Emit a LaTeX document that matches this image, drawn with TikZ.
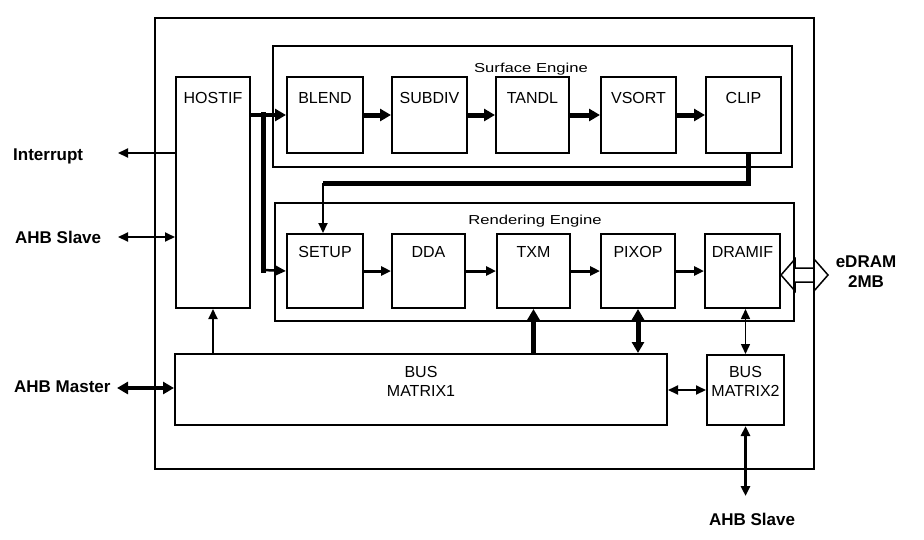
\documentclass[tikz,border=0pt]{standalone}
\usepackage{fontspec}
\setmainfont{Liberation Sans}
\newfontfamily\engfont[FakeStretch=1.28]{Liberation Sans}
\usetikzlibrary{arrows.meta,calc}
\begin{document}
\begin{tikzpicture}[x=1pt,y=-1pt,
  box/.style={draw, line width=2pt, rectangle, inner sep=0pt, anchor=north west},
  btext/.style={anchor=north, inner sep=0pt, font=\fontsize{16}{19}\selectfont, align=center},
  otext/.style={inner sep=0pt, font=\fontsize{17}{20}\selectfont\bfseries, align=center},
  etext/.style={inner sep=0pt, anchor=base, font=\engfont\fontsize{13}{15}\selectfont},
  tipa/.style={-{Triangle[length=10pt,width=9pt]}},
  tipb/.style={{Triangle[length=10pt,width=9pt]}-{Triangle[length=10pt,width=9pt]}},
  tipA/.style={-{Triangle[length=11pt,width=12pt]}},
  tipB/.style={{Triangle[length=11pt,width=12pt]}-{Triangle[length=11pt,width=12pt]}},
  thinline/.style={line width=2pt},
  medline/.style={line width=3pt},
  fatline/.style={line width=5pt}
]
\useasboundingbox (0,0) rectangle (924,539);

% outer chip
\node[box, minimum width=659pt, minimum height=451pt] (chip) at (154,17) {};

% HOSTIF
\node[box, minimum width=74pt, minimum height=231pt] (HOSTIF) at (175,76) {};
\node[btext] (tHOSTIF) at ([yshift=-16pt]HOSTIF.north) {HOSTIF};

% Surface engine
\node[box, minimum width=519pt, minimum height=121pt] (SE) at (272,45) {};
\node[etext] (tSE) at (531,72) {Surface Engine};
\node[box, minimum width=76pt, minimum height=76pt] (BLEND) at (286,76) {};
\node[box, minimum width=75pt, minimum height=76pt] (SUBDIV) at (391,76) {};
\node[box, minimum width=73pt, minimum height=76pt] (TANDL) at (495,76) {};
\node[box, minimum width=75pt, minimum height=76pt] (VSORT) at (600,76) {};
\node[box, minimum width=75pt, minimum height=76pt] (CLIP) at (705,76) {};
\node[btext] (tBLEND) at ([yshift=-16pt]BLEND.north) {BLEND};
\node[btext] (tSUBDIV) at ([yshift=-16pt]SUBDIV.north) {SUBDIV};
\node[btext] (tTANDL) at ([yshift=-16pt]TANDL.north) {TANDL};
\node[btext] (tVSORT) at ([yshift=-16pt]VSORT.north) {VSORT};
\node[btext] (tCLIP) at ([yshift=-16pt]CLIP.north) {CLIP};

% Rendering engine
\node[box, minimum width=519pt, minimum height=118pt] (RE) at (274,202) {};
\node[etext] (tRE) at (535,224) {Rendering Engine};
\node[box, minimum width=76pt, minimum height=74pt] (SETUP) at (286,233) {};
\node[box, minimum width=73pt, minimum height=74pt] (DDA) at (391,233) {};
\node[box, minimum width=73pt, minimum height=74pt] (TXM) at (496,233) {};
\node[box, minimum width=74pt, minimum height=74pt] (PIXOP) at (600,233) {};
\node[box, minimum width=75pt, minimum height=74pt] (DRAMIF) at (704,233) {};
\node[btext] (tSETUP) at ([yshift=-13pt]SETUP.north) {SETUP};
\node[btext] (tDDA) at ([yshift=-13pt]DDA.north) {DDA};
\node[btext] (tTXM) at ([yshift=-13pt]TXM.north) {TXM};
\node[btext] (tPIXOP) at ([yshift=-13pt]PIXOP.north) {PIXOP};
\node[btext] (tDRAMIF) at ([yshift=-13pt]DRAMIF.north) {DRAMIF};

% Bus matrices
\node[box, minimum width=492pt, minimum height=71pt] (BM1) at (174,353) {};
\node[btext] (tBM1) at (421,366) {BUS\\MATRIX1};
\node[box, minimum width=77pt, minimum height=70pt] (BM2) at (706,354) {};
\node[btext] (tBM2) at ([yshift=-12pt]BM2.north) {BUS\\MATRIX2};

% outside labels
\node[otext, anchor=base west] (tInt) at (13,160) {Interrupt};
\node[otext, anchor=base west] (tAHBS) at (15,243) {AHB Slave};
\node[otext, anchor=base west] (tAHBM) at (14,392) {AHB Master};
\node[otext, anchor=base] (tAHBS2) at (752,525) {AHB Slave};
\node[otext, anchor=base] (tED1) at (866,267) {eDRAM};
\node[otext, anchor=base] (tED2) at (866,287) {2MB};

% free ends
\coordinate (intE) at (118,153);
\coordinate (ahbsE) at (118,237);
\coordinate (ahbmE) at (117,388);
\coordinate (ahbs2E) at (746,496);
\coordinate (jtop) at (263,114);
\coordinate (jbot) at (263,270);
\coordinate (fbR) at (748,183);
\coordinate (fbL) at (323,183);

% Surface chain
\draw[line width=4pt, tipA] (HOSTIF.east |- BLEND.west) -- (BLEND.west);
\draw[fatline, tipA] (BLEND.east) -- (SUBDIV.west);
\draw[fatline, tipA] (SUBDIV.east) -- (TANDL.west);
\draw[fatline, tipA] (TANDL.east) -- (VSORT.west);
\draw[fatline, tipA] (VSORT.east) -- (CLIP.west);

% HOSTIF to SETUP
\draw[fatline, line cap=rect] (jtop) -- (jbot);
\draw[line width=2.5pt, tipa] (jbot) -- (SETUP.west);

% CLIP feedback to SETUP
\draw[fatline, line join=miter] (CLIP.south -| fbR) -- (fbR) -- (fbL);
\draw[thinline, tipa] (fbL) -- (fbL |- SETUP.north);

% Rendering chain
\draw[medline, tipa] (SETUP.east) -- (DDA.west);
\draw[medline, tipa] (DDA.east) -- (TXM.west);
\draw[medline, tipa] (TXM.east) -- (PIXOP.west);
\draw[medline, tipa] (PIXOP.east) -- (DRAMIF.west);

% eDRAM hollow double arrow
\draw[line width=1.5pt] ($(DRAMIF.east)+(0,4)$) -- ++(14,-16) -- ++(0,9) -- ++(19,0) -- ++(0,-9)
  -- ++(14,16) -- ++(-14,16) -- ++(0,-9) -- ++(-19,0) -- ++(0,9) -- cycle;

% bus connections
\draw[fatline, tipA] (TXM.south |- BM1.north) -- (TXM.south);
\draw[fatline, tipB] (PIXOP.south) -- (PIXOP.south |- BM1.north);
\draw[line width=1.5pt, tipb] (BM2.north |- DRAMIF.south) -- (BM2.north);
\draw[thinline, tipb] (BM1.east |- BM2.west) -- (BM2.west);
\draw[line width=2.5pt, tipb] (BM2.south) -- (BM2.south |- ahbs2E);
\draw[thinline, tipa] (HOSTIF.south |- BM1.north) -- (HOSTIF.south);

% host side
\draw[thinline, tipa] (HOSTIF.west |- intE) -- (intE);
\draw[thinline, tipb] (ahbsE) -- (HOSTIF.west |- ahbsE);
\draw[line width=4pt, tipB] (ahbmE) -- (BM1.west |- ahbmE);
\end{tikzpicture}
\end{document}
